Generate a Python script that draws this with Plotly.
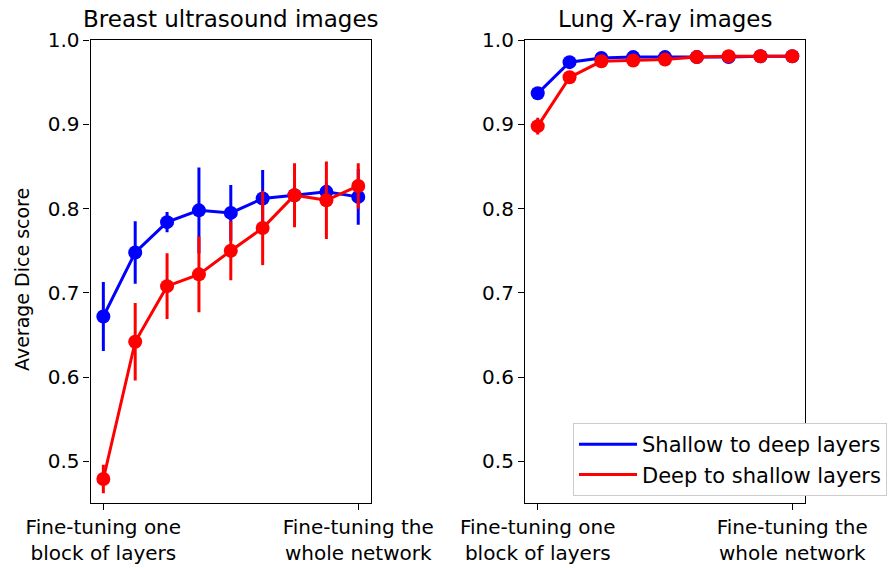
import plotly.graph_objects as go

steps = list(range(9))
tick_vals = [0, 8]
tick_text = ["Fine-tuning one<br>block of layers", "Fine-tuning the<br>whole network"]

breast_s2d = [0.672, 0.748, 0.784, 0.798, 0.795, 0.812, 0.816, 0.820, 0.814]
breast_s2d_err = [0.041, 0.037, 0.012, 0.051, 0.033, 0.034, 0.010, 0.010, 0.033]
breast_d2s = [0.479, 0.642, 0.708, 0.722, 0.750, 0.777, 0.816, 0.810, 0.827]
breast_d2s_err = [0.017, 0.046, 0.039, 0.045, 0.035, 0.044, 0.038, 0.046, 0.027]

lung_s2d = [0.937, 0.974, 0.979, 0.980, 0.980, 0.980, 0.980, 0.981, 0.981]
lung_s2d_err = [0.004, 0.003, 0.002, 0.002, 0.002, 0.002, 0.002, 0.002, 0.002]
lung_d2s = [0.898, 0.956, 0.975, 0.976, 0.977, 0.980, 0.981, 0.981, 0.981]
lung_d2s_err = [0.010, 0.004, 0.003, 0.003, 0.003, 0.002, 0.002, 0.002, 0.002]

names = ["Shallow to deep layers", "Deep to shallow layers"]
colors = ["#0000ff", "#ff0000"]

W, H = 888, 568
FONT = "DejaVu Sans"

def px(x):
    return x / W

def py(y):
    return 1 - y / H

fig = go.Figure()

def add_series(xa, ya, y, err, color):
    fig.add_trace(go.Scatter(
        x=steps, y=y, xaxis=xa, yaxis=ya, mode="lines+markers",
        line=dict(color=color, width=3),
        marker=dict(color=color, size=14),
        error_y=dict(type="data", array=err, visible=True, color=color, thickness=3, width=0),
        showlegend=False, hoverinfo="skip"))

add_series("x", "y", breast_s2d, breast_s2d_err, colors[0])
add_series("x", "y", breast_d2s, breast_d2s_err, colors[1])
add_series("x2", "y2", lung_s2d, lung_s2d_err, colors[0])
add_series("x2", "y2", lung_d2s, lung_d2s_err, colors[1])

for n, c in zip(names, colors):
    fig.add_trace(go.Scatter(x=[None], y=[None], xaxis="x2", yaxis="y2", mode="lines",
                             line=dict(color=c, width=3), name=n, showlegend=True))

ydom = [py(503), py(40)]
axis_common = dict(showline=True, mirror=True, linecolor="black", linewidth=1.25,
                   ticks="outside", ticklen=6, tickwidth=1.25, tickcolor="black",
                   showgrid=False, zeroline=False, automargin=False,
                   tickfont=dict(family=FONT, size=20, color="black"))

fig.update_layout(
    width=W, height=H,
    margin=dict(l=0, r=0, t=0, b=0, autoexpand=False),
    paper_bgcolor="white", plot_bgcolor="white",
    font=dict(family=FONT, color="black"),
    hovermode=False,
    xaxis=dict(domain=[px(90.6), px(371)], range=[-0.4, 8.4], tickvals=tick_vals, ticktext=tick_text, anchor="y", **axis_common),
    yaxis=dict(domain=ydom, range=[0.4505, 1.0003], tickvals=[0.5, 0.6, 0.7, 0.8, 0.9, 1.0], tickformat=".1f", anchor="x", **axis_common),
    xaxis2=dict(domain=[px(525), px(805)], range=[-0.4, 8.4], tickvals=tick_vals, ticktext=tick_text, anchor="y2", **axis_common),
    yaxis2=dict(domain=ydom, range=[0.4505, 1.0003], tickvals=[0.5, 0.6, 0.7, 0.8, 0.9, 1.0], tickformat=".1f", anchor="x2", **axis_common),
    legend=dict(x=px(573), y=py(423), xanchor="left", yanchor="top",
                bordercolor="#cccccc", borderwidth=1, bgcolor="white", itemwidth=58,
                font=dict(family=FONT, size=21, color="black"), tracegroupgap=0),
    annotations=[
        dict(text="Breast ultrasound images", x=(px(90.6) + px(371)) / 2, y=py(19), xref="paper", yref="paper",
             xanchor="center", yanchor="middle", showarrow=False, font=dict(family=FONT, size=23, color="black")),
        dict(text="Lung X-ray images", x=(px(525) + px(805)) / 2, y=py(19), xref="paper", yref="paper",
             xanchor="center", yanchor="middle", showarrow=False, font=dict(family=FONT, size=23, color="black")),
        dict(text="Average Dice score", x=px(22), y=py(280), xref="paper", yref="paper", textangle=-90,
             xanchor="center", yanchor="middle", showarrow=False, font=dict(family=FONT, size=19, color="black")),
    ],
)

fig.write_html("out.html", config={"displayModeBar": False},
               post_script="document.body.style.margin='0';")
